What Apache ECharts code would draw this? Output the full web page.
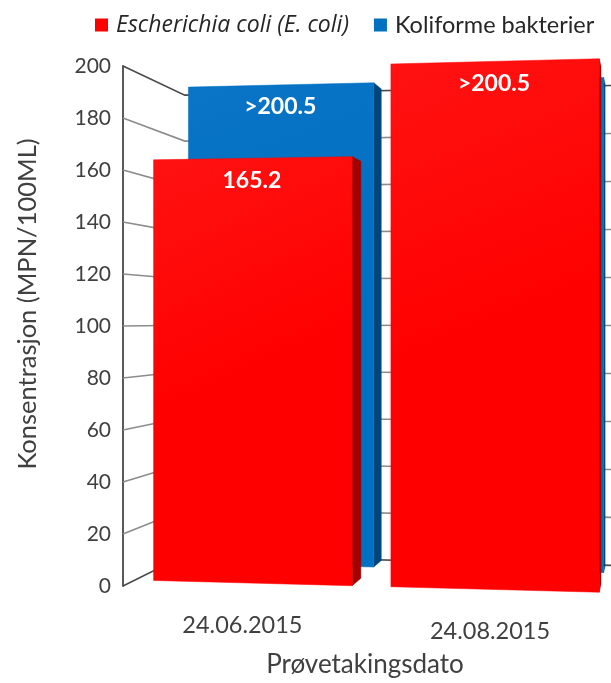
<!DOCTYPE html>
<html>
<head>
<meta charset="utf-8">
<script src="https://cdn.jsdelivr.net/npm/echarts/dist/echarts.min.js"></script>
<style>
  html, body { margin: 0; padding: 0; background: #ffffff; }
  #chart { width: 611px; height: 683px; }
</style>
</head>
<body>
<div id="chart"></div>
<script>
// Sampling dates and measured concentrations (MPN/100 mL)
const categories = ['24.06.2015', '24.08.2015'];
const seriesNames = ['Escherichia coli (E. coli)', 'Koliforme bakterier'];
const ecoliValues = [165.2, 200.5];
const ecoliAboveLimit = [false, true];      // result reported as "> value"
const koliformValues = [200.5, 200.5];
const koliformAboveLimit = [true, true];
const yTicks = [0, 20, 40, 60, 80, 100, 120, 140, 160, 180, 200];

const FONT = 'Lato, "Open Sans", sans-serif';
const BAR_RATIO = 0.84;

// Perspective camera: eye level, vanishing point of the depth axis, slight yaw
const VIEW = { horizon: 319, vanishX: 660, depth: 0.13, yaw: -1 / 9761 };
// Depth slots (0 = front edge of floor, 1 = back wall)
const ROW_ECOLI = [0.177, 0.40];
const ROW_KOLI = [0.757, 0.98];

function makeProjector(cs) {
  return function (fx, fy, z) {
    const w = 1 + VIEW.yaw * (fx - cs.x) + VIEW.depth * z;
    return [(fx + VIEW.vanishX * VIEW.depth * z) / w, VIEW.horizon + (fy - VIEW.horizon) / w];
  };
}

function renderWall(params, api) {
  const cs = params.coordSys;
  const P = makeProjector(cs);
  const v = api.value(1);
  const fy = api.coord([0, v])[1];
  const edge = v === yTicks[0] || v === yTicks[yTicks.length - 1];
  const a = P(cs.x, fy, 0), b = P(cs.x, fy, 1), c = P(cs.x + cs.width, fy, 1);
  return {
    type: 'polyline',
    shape: { points: [a, b, c] },
    style: { stroke: edge ? '#4a4a4a' : '#8c8c8c', lineWidth: 1.6, fill: null }
  };
}

function barRenderer(row, faceTop, faceColor, sideColor, aboveFlags) {
  return function (params, api) {
    const cs = params.coordSys;
    const P = makeProjector(cs);
    const idx = api.value(0);
    const val = api.value(1);
    const base = api.coord([idx, 0]);
    const top = api.coord([idx, val]);
    const half = api.size([1, 0])[0] * BAR_RATIO / 2;
    const xl = base[0] - half, xr = base[0] + half;
    const zf = row[0], zb = row[1];
    const fbl = P(xl, base[1], zf), fbr = P(xr, base[1], zf);
    const ftr = P(xr, top[1], zf), ftl = P(xl, top[1], zf);
    const bbr = P(xr, base[1], zb), btr = P(xr, top[1], zb);
    const lab = P(base[0], top[1], zf);
    const text = (aboveFlags[idx] ? '>' : '') + val.toFixed(1);
    const face = new echarts.graphic.LinearGradient(0, 0, 1, 1, [
      { offset: 0, color: faceTop }, { offset: 0.5, color: faceColor }, { offset: 1, color: faceColor }
    ]);
    return {
      type: 'group',
      children: [
        { type: 'polygon', shape: { points: [fbr, ftr, btr, bbr] },
          style: { fill: sideColor, stroke: sideColor, lineWidth: 0.5 } },
        { type: 'polygon', shape: { points: [fbl, fbr, ftr, ftl] },
          style: { fill: face, stroke: faceColor, lineWidth: 0.5 } },
        { type: 'text', x: lab[0], y: lab[1] + 22,
          style: { text: text, fill: '#ffffff', font: 'bold 23px ' + FONT,
                   align: 'center', verticalAlign: 'middle' } }
      ]
    };
  };
}

function renderCategoryLabel(params, api) {
  const cs = params.coordSys;
  const P = makeProjector(cs);
  const idx = api.value(0);
  const p = api.coord([idx, 0]);
  const q = P(p[0], p[1], 0);
  return {
    type: 'text', x: q[0], y: q[1] + 36,
    style: { text: categories[idx], fill: '#404040', font: '23.5px ' + FONT,
             align: 'center', verticalAlign: 'middle' }
  };
}

const chart = echarts.init(document.getElementById('chart'));
chart.setOption({
  animation: false,
  backgroundColor: '#ffffff',
  legend: {
    top: 8, left: 90,
    icon: 'rect', itemWidth: 13, itemHeight: 13, itemGap: 25,
    textStyle: { fontSize: 23.5, color: '#262626', fontFamily: FONT, padding: [0, 0, 0, 3] },
    data: [
      { name: seriesNames[0],
        textStyle: { fontStyle: 'italic', fontFamily: '"Open Sans", sans-serif', fontSize: 23 } },
      { name: seriesNames[1] }
    ]
  },
  grid: { left: 123, top: 66, width: 466, height: 522 },
  xAxis: {
    type: 'category',
    data: categories,
    axisLine: { show: false }, axisTick: { show: false }, axisLabel: { show: false },
    name: 'Prøvetakingsdato', nameLocation: 'middle', nameGap: 66,
    nameTextStyle: { fontSize: 26, color: '#404040', fontFamily: FONT, padding: [0, 0, 0, 18] }
  },
  yAxis: {
    type: 'value',
    min: yTicks[0], max: yTicks[yTicks.length - 1], interval: yTicks[1] - yTicks[0],
    axisLine: { show: true, lineStyle: { color: '#595959', width: 2 } },
    axisTick: { show: false },
    splitLine: { show: false },
    axisLabel: { fontSize: 21, color: '#404040', fontFamily: FONT, margin: 12 },
    name: 'Konsentrasjon (MPN/100ML)', nameLocation: 'middle', nameGap: 82,
    nameTextStyle: { fontSize: 25.5, color: '#404040', fontFamily: FONT, padding: [0, 0, 0, 44] }
  },
  series: [
    { type: 'custom', name: 'walls', z: 1, clip: false, silent: true,
      renderItem: renderWall, data: yTicks.map(v => [0, v]) },
    { type: 'custom', name: seriesNames[1], z: 3, clip: false,
      itemStyle: { color: '#0070C0' },
      renderItem: barRenderer(ROW_KOLI, '#0A74C6', '#0070C0', '#00467A', koliformAboveLimit),
      data: koliformValues.map((v, i) => [i, v]) },
    { type: 'custom', name: seriesNames[0], z: 4, clip: false,
      itemStyle: { color: '#FF0000' },
      renderItem: barRenderer(ROW_ECOLI, '#FF1212', '#FF0000', '#A30000', ecoliAboveLimit),
      data: ecoliValues.map((v, i) => [i, v]) },
    { type: 'custom', name: 'categoryLabels', z: 5, clip: false, silent: true,
      renderItem: renderCategoryLabel, data: categories.map((c, i) => [i, 0]) }
  ]
});
</script>
</body>
</html>
